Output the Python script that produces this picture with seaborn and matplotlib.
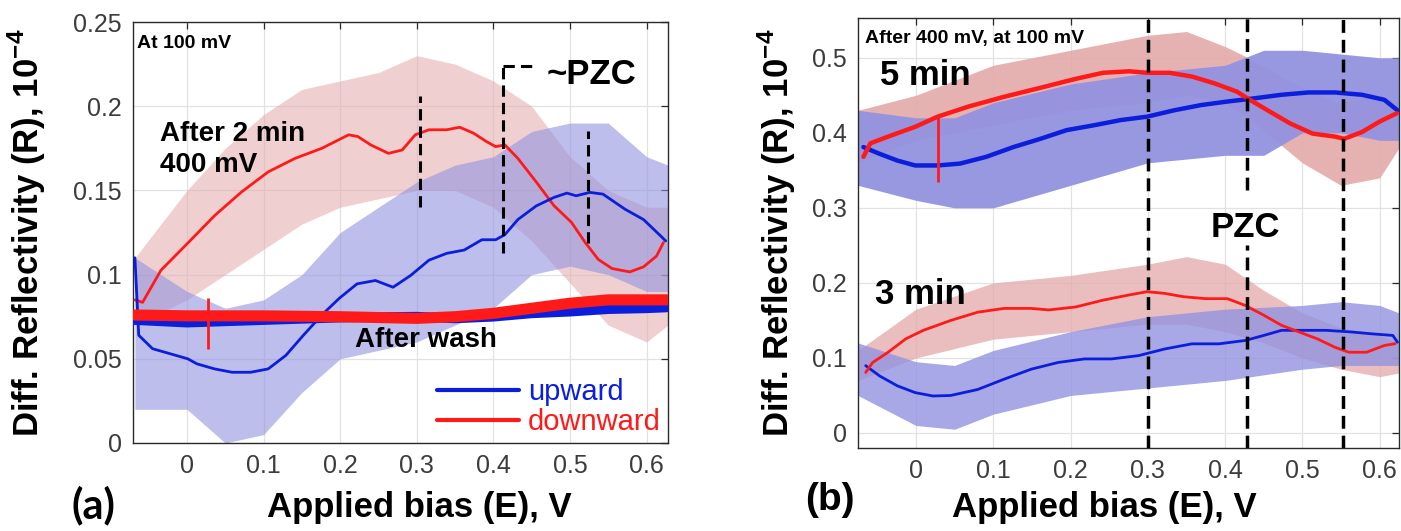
import matplotlib
matplotlib.use("Agg")
import matplotlib.pyplot as plt
import seaborn as sns
import pandas as pd
from matplotlib.lines import Line2D
from matplotlib.ticker import FuncFormatter

# ---------------- data ----------------
# Panel (a): after 2 min at 400 mV, measured at 100 mV
a_down_x = [-0.068, -0.058, -0.034, 0.001, 0.036, 0.071, 0.106, 0.141, 0.176, 0.211, 0.223, 0.24,
            0.263, 0.281, 0.298, 0.316, 0.339, 0.356, 0.374, 0.391, 0.403, 0.415, 0.432, 0.456,
            0.479, 0.502, 0.52, 0.537, 0.555, 0.578, 0.596, 0.613, 0.622]
a_down_y = [0.085, 0.0835, 0.1026, 0.1187, 0.135, 0.149, 0.161, 0.169, 0.175, 0.183, 0.182, 0.177,
            0.172, 0.174, 0.183, 0.186, 0.186, 0.1875, 0.184, 0.179, 0.176, 0.177, 0.169, 0.155,
            0.141, 0.131, 0.119, 0.109, 0.1036, 0.1016, 0.1046, 0.111, 0.119]
a_up_x = [-0.068, -0.063, -0.045, -0.022, 0.001, 0.013, 0.036, 0.059, 0.083, 0.106, 0.129, 0.152,
          0.176, 0.199, 0.222, 0.246, 0.269, 0.292, 0.316, 0.339, 0.362, 0.385, 0.403, 0.415,
          0.432, 0.456, 0.479, 0.496, 0.508, 0.526, 0.543, 0.572, 0.596, 0.619, 0.625]
a_up_y = [0.110, 0.064, 0.056, 0.053, 0.050, 0.047, 0.044, 0.042, 0.042, 0.044, 0.052, 0.064,
          0.076, 0.086, 0.0945, 0.0965, 0.0925, 0.0995, 0.1086, 0.1126, 0.1146, 0.1207, 0.1207, 0.1237,
          0.1327, 0.1408, 0.1458, 0.1484, 0.1468, 0.1488, 0.1478, 0.1388, 0.1327, 0.1227, 0.120]
# after wash traces
wash_x = [-0.068, 0.0, 0.1, 0.2, 0.3, 0.35, 0.4, 0.45, 0.5, 0.55, 0.6, 0.626]
wash_up = [0.073, 0.0715, 0.073, 0.0745, 0.075, 0.074, 0.075, 0.077, 0.078, 0.0795, 0.080, 0.0805]
wash_down = [0.076, 0.0755, 0.0755, 0.075, 0.074, 0.075, 0.077, 0.080, 0.083, 0.085, 0.085, 0.085]
# scatter clouds (envelopes)
a_cloud_x = [-0.068, 0.0, 0.05, 0.1, 0.15, 0.2, 0.25, 0.3, 0.35, 0.4, 0.45, 0.5, 0.55, 0.6, 0.628]
a_down_lo = [0.07, 0.085, 0.10, 0.115, 0.13, 0.14, 0.145, 0.15, 0.15, 0.14, 0.12, 0.095, 0.07, 0.06, 0.07]
a_down_hi = [0.11, 0.15, 0.175, 0.195, 0.21, 0.215, 0.22, 0.23, 0.225, 0.215, 0.20, 0.17, 0.15, 0.14, 0.14]
a_up_lo = [0.02, 0.02, 0.0, 0.005, 0.03, 0.05, 0.055, 0.06, 0.07, 0.08, 0.10, 0.105, 0.10, 0.09, 0.09]
a_up_hi = [0.11, 0.09, 0.08, 0.085, 0.10, 0.125, 0.14, 0.155, 0.165, 0.17, 0.185, 0.19, 0.19, 0.17, 0.165]
# spikes: x, y_low, y_high
a_spike = [0.027, 0.056, 0.086]
# PZC marks
a_pzc_x = [0.304, 0.4125, 0.524]
a_pzc_lo = [0.140, 0.113, 0.119]
a_pzc_hi = [0.206, 0.224, 0.185]
a_pzc_stub = [0.4125, 0.454, 0.224]

# Panel (b): after 400 mV, at 100 mV ; 5 min and 3 min
b5_down_x = [-0.068, -0.059, -0.036, -0.001, 0.028, 0.068, 0.114, 0.161, 0.207, 0.242, 0.276, 0.299,
             0.328, 0.357, 0.386, 0.415, 0.432, 0.455, 0.484, 0.513, 0.542, 0.554, 0.577, 0.6, 0.622]
b5_down_y = [0.368, 0.386, 0.395, 0.408, 0.4215, 0.435, 0.448, 0.46, 0.472, 0.48, 0.482, 0.48,
             0.48, 0.475, 0.466, 0.455, 0.444, 0.43, 0.4126, 0.399, 0.395, 0.392, 0.401, 0.415, 0.426]
b5_up_x = [-0.068, -0.047, -0.024, -0.001, 0.028, 0.057, 0.091, 0.126, 0.161, 0.195, 0.23, 0.265,
           0.299, 0.334, 0.369, 0.403, 0.438, 0.473, 0.508, 0.542, 0.577, 0.606, 0.623]
b5_up_y = [0.381, 0.372, 0.363, 0.3565, 0.3565, 0.359, 0.368, 0.381, 0.392, 0.4036, 0.41, 0.417,
           0.4215, 0.43, 0.437, 0.4417, 0.446, 0.4507, 0.4538, 0.4538, 0.4507, 0.444, 0.43]
b3_down_x = [-0.065, -0.056, -0.036, -0.013, 0.01, 0.045, 0.08, 0.114, 0.149, 0.172, 0.207, 0.242,
             0.276, 0.299, 0.322, 0.346, 0.375, 0.403, 0.426, 0.45, 0.473, 0.496, 0.519, 0.542,
             0.56, 0.583, 0.606, 0.62]
b3_down_y = [0.0807, 0.094, 0.1076, 0.1256, 0.137, 0.150, 0.161, 0.166, 0.166, 0.164, 0.168, 0.177,
             0.184, 0.1883, 0.186, 0.1816, 0.179, 0.179, 0.170, 0.157, 0.1435, 0.1345, 0.1256, 0.1143,
             0.1076, 0.1076, 0.1166, 0.119]
b3_up_x = [-0.065, -0.047, -0.024, -0.001, 0.022, 0.045, 0.08, 0.114, 0.149, 0.184, 0.218, 0.253,
           0.288, 0.322, 0.357, 0.392, 0.426, 0.45, 0.473, 0.496, 0.531, 0.565, 0.588, 0.617, 0.623]
b3_up_y = [0.0897, 0.076, 0.0628, 0.0538, 0.0493, 0.050, 0.058, 0.0717, 0.085, 0.094, 0.0987, 0.0987,
           0.1031, 0.112, 0.1188, 0.1188, 0.1233, 0.130, 0.1368, 0.1368, 0.1368, 0.1345, 0.1323, 0.130, 0.121]
b5_pink_x = [-0.075, 0.0, 0.1, 0.2, 0.3, 0.35, 0.4, 0.43, 0.5, 0.55, 0.6, 0.625]
b5_pink_lo = [0.36, 0.39, 0.41, 0.43, 0.44, 0.45, 0.44, 0.42, 0.36, 0.33, 0.34, 0.38]
b5_pink_hi = [0.43, 0.45, 0.49, 0.51, 0.53, 0.535, 0.515, 0.50, 0.46, 0.44, 0.45, 0.44]
b5_blue_x = [-0.075, 0.0, 0.05, 0.1, 0.2, 0.3, 0.4, 0.45, 0.5, 0.55, 0.6, 0.625]
b5_blue_lo = [0.33, 0.31, 0.30, 0.30, 0.33, 0.36, 0.37, 0.37, 0.40, 0.40, 0.39, 0.39]
b5_blue_hi = [0.43, 0.42, 0.42, 0.44, 0.465, 0.48, 0.49, 0.51, 0.51, 0.505, 0.50, 0.50]
b3_pink_x = [-0.075, 0.0, 0.1, 0.2, 0.3, 0.35, 0.4, 0.45, 0.5, 0.55, 0.6, 0.625]
b3_pink_lo = [0.07, 0.10, 0.125, 0.135, 0.145, 0.145, 0.135, 0.12, 0.10, 0.085, 0.075, 0.08]
b3_pink_hi = [0.11, 0.165, 0.20, 0.21, 0.225, 0.235, 0.225, 0.19, 0.16, 0.14, 0.13, 0.12]
b3_blue_x = [-0.075, 0.0, 0.05, 0.1, 0.2, 0.3, 0.4, 0.5, 0.55, 0.6, 0.625]
b3_blue_lo = [0.05, 0.01, 0.005, 0.025, 0.05, 0.06, 0.07, 0.085, 0.09, 0.09, 0.09]
b3_blue_hi = [0.12, 0.095, 0.09, 0.11, 0.135, 0.155, 0.165, 0.17, 0.175, 0.17, 0.16]
b_spike = [0.028, 0.335, 0.421]
b_pzc_x = [0.300, 0.428, 0.553]

x_ticks = [0, 0.1, 0.2, 0.3, 0.4, 0.5, 0.6]
a_yticks = [0, 0.05, 0.1, 0.15, 0.2, 0.25]
b_yticks = [0, 0.1, 0.2, 0.3, 0.4, 0.5]

# ---------------- style ----------------
sns.set_theme(style="whitegrid")
plt.rcParams['font.family'] = ['Liberation Sans', 'DejaVu Sans']
plt.rcParams['mathtext.fontset'] = 'custom'
plt.rcParams['mathtext.rm'] = 'Liberation Sans'
plt.rcParams['mathtext.bf'] = 'Liberation Sans:bold'
plt.rcParams['text.color'] = 'black'
plt.rcParams['axes.labelcolor'] = 'black'

BLUE = '#0a1edc'
RED = '#ff1a1a'
PINK = '#e3a9a9'
LBLUE = '#9393e0'
TICKC = '#3c3c3c'

fig = plt.figure(figsize=(14.01, 5.31), dpi=100)
W, H = 1401, 531
axA = fig.add_axes([133 / W, (H - 443) / H, (668 - 133) / W, (443 - 22) / H])
axB = fig.add_axes([858 / W, (H - 448) / H, (1399 - 858) / W, (448 - 18) / H])

fmt = FuncFormatter(lambda v, p: '%g' % v)
for ax in (axA, axB):
    ax.set_facecolor('white')
    ax.grid(True, color='#e2e2e2', lw=0.9)
    for s in ax.spines.values():
        s.set_color('#2a2a2a')
        s.set_linewidth(1.0)
    ax.tick_params(direction='in', length=5, width=0.9, color='#2a2a2a', top=True, right=True,
                   labelsize=18, labelcolor=TICKC, pad=8)
    ax.set_xticks(x_ticks)
    ax.xaxis.set_major_formatter(fmt)
    ax.yaxis.set_major_formatter(fmt)

dash = (0, (3.7, 2.0))


def line(ax, x, y, color, lw, z=4):
    sns.lineplot(x=x, y=y, ax=ax, color=color, lw=lw, sort=False, estimator=None, zorder=z,
                 legend=False)


# ---------------- panel (a) ----------------
axA.fill_between(a_cloud_x, a_down_lo, a_down_hi, color=PINK, alpha=0.55, lw=0, zorder=1)
axA.fill_between(a_cloud_x, a_up_lo, a_up_hi, color=LBLUE, alpha=0.6, lw=0, zorder=1.5)
line(axA, a_down_x, a_down_y, RED, 2.0)
line(axA, a_up_x, a_up_y, BLUE, 2.0)
line(axA, wash_x, wash_up, BLUE, 7, z=5)
line(axA, wash_x, wash_down, RED, 8, z=5.5)
axA.vlines(a_spike[0], a_spike[1], a_spike[2], color=RED, lw=2.0, zorder=6)
axA.vlines(a_pzc_x, a_pzc_lo, a_pzc_hi, color='black', lw=2.2, linestyles=[dash], zorder=7)
axA.hlines(a_pzc_stub[2], a_pzc_stub[0], a_pzc_stub[1], color='black', lw=2.2, linestyles=[dash], zorder=7)
axA.set_xlim(-0.0705, 0.628)
axA.set_ylim(0, 0.25)
axA.set_yticks(a_yticks)

axA.text(0.008, 0.95, 'At 100 mV', transform=axA.transAxes, fontsize=14, fontweight='bold',
         ha='left', va='center')
axA.text(-0.035, 0.174, 'After 2 min\n400 mV', fontsize=20, fontweight='bold', ha='left',
         va='center', linespacing=1.25)
axA.text(0.219, 0.061, 'After wash', fontsize=20, fontweight='bold', ha='left', va='center')
axA.text(0.469, 0.219, '~PZC', fontsize=25, fontweight='bold', ha='left', va='center')

handles = [Line2D([], [], color=BLUE, lw=3), Line2D([], [], color=RED, lw=3)]
axA.legend(handles, ['upward', 'downward'], loc='lower right', frameon=False, fontsize=21,
           handlelength=2.8, handletextpad=0.3, labelspacing=0.05, borderaxespad=0.15,
           borderpad=0.1, labelcolor=[BLUE, RED])

axA.set_ylabel(r'Diff. Reflectivity (R), 10$^{\bf{-4}}$', fontsize=25, fontweight='bold')
axA.yaxis.set_label_coords(-0.158, 0.5)
axA.set_xlabel('Applied bias (E), V', fontsize=25, fontweight='bold')
axA.xaxis.set_label_coords(0.535, -0.115)
fig.text(93 / W, 1 - 505 / H, '(a)', fontsize=30, fontweight='bold', ha='center', va='center',
         family=['Lato', 'DejaVu Sans'])

# ---------------- panel (b) ----------------
axB.fill_between(b5_pink_x, b5_pink_lo, b5_pink_hi, color=PINK, alpha=0.9, lw=0, zorder=1)
axB.fill_between(b5_blue_x, b5_blue_lo, b5_blue_hi, color=LBLUE, alpha=0.95, lw=0, zorder=1.5)
axB.fill_between(b3_pink_x, b3_pink_lo, b3_pink_hi, color=PINK, alpha=0.75, lw=0, zorder=1)
axB.fill_between(b3_blue_x, b3_blue_lo, b3_blue_hi, color=LBLUE, alpha=0.8, lw=0, zorder=1.5)
line(axB, b5_up_x, b5_up_y, BLUE, 3.2)
line(axB, b5_down_x, b5_down_y, RED, 3.2)
line(axB, b3_up_x, b3_up_y, BLUE, 2.0)
line(axB, b3_down_x, b3_down_y, RED, 2.0)
axB.vlines(b_spike[0], b_spike[1], b_spike[2], color=RED, lw=2.0, zorder=6)
axB.set_xlim(-0.075, 0.625)
axB.set_ylim(-0.02, 0.553)
axB.set_yticks(b_yticks)
axB.vlines([b_pzc_x[0], b_pzc_x[2]], -0.02, 0.553, color='black', lw=2.5, linestyles=[dash], zorder=7)
axB.vlines(b_pzc_x[1], 0.324, 0.553, color='black', lw=2.5, linestyles=[dash], zorder=7)
axB.vlines(b_pzc_x[1], -0.02, 0.251, color='black', lw=2.5, linestyles=[dash], zorder=7)

axB.text(0.013, 0.953, 'After 400 mV, at 100 mV', transform=axB.transAxes, fontsize=14,
         fontweight='bold', ha='left', va='center')
axB.text(-0.047, 0.476, '5 min', fontsize=25, fontweight='bold', ha='left', va='center')
axB.text(-0.053, 0.184, '3 min', fontsize=25, fontweight='bold', ha='left', va='center')
axB.text(0.426, 0.274, 'PZC', fontsize=25, fontweight='bold', ha='center', va='center')

axB.set_ylabel(r'Diff. Reflectivity (R), 10$^{\bf{-4}}$', fontsize=25, fontweight='bold')
axB.yaxis.set_label_coords(-0.11, 0.5)
axB.set_xlabel('Applied bias (E), V', fontsize=25, fontweight='bold')
axB.xaxis.set_label_coords(0.455, -0.1)
fig.text(830 / W, 1 - 500 / H, '(b)', fontsize=28, fontweight='bold', ha='center', va='center')

fig.savefig('out.png', dpi=100)
